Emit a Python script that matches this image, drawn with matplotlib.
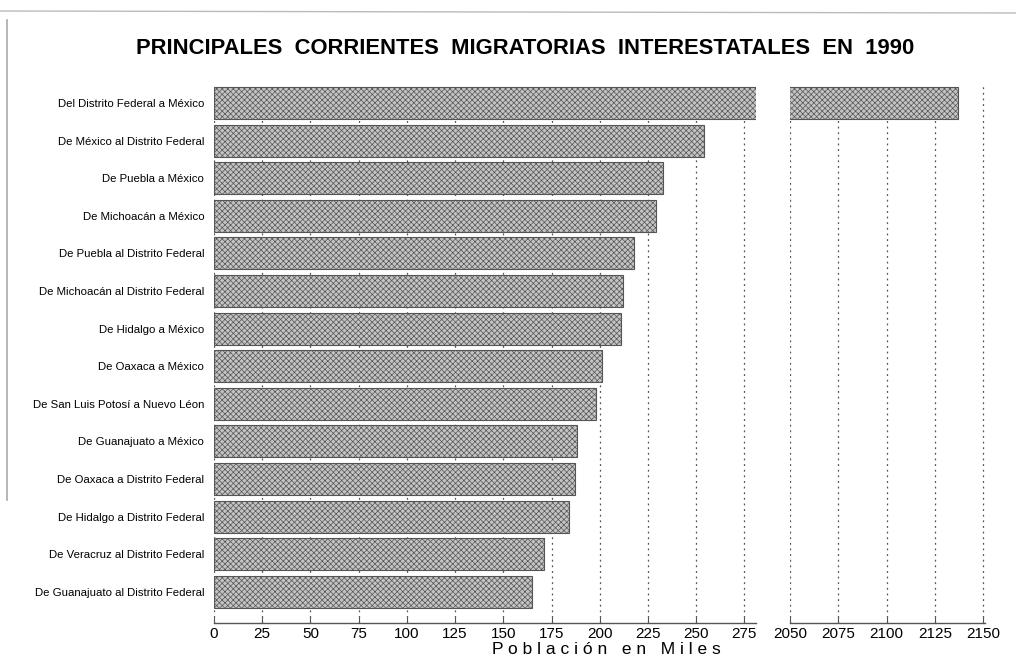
import matplotlib
matplotlib.use("Agg")
import matplotlib.pyplot as plt
from matplotlib.lines import Line2D

plt.rcParams['font.family'] = ['Liberation Sans', 'DejaVu Sans']
plt.rcParams['hatch.linewidth'] = 0.5

categories = [
    "Del Distrito Federal a México",
    "De México al Distrito Federal",
    "De Puebla a México",
    "De Michoacán a México",
    "De Puebla al Distrito Federal",
    "De Michoacán al Distrito Federal",
    "De Hidalgo a México",
    "De Oaxaca a México",
    "De San Luis Potosí a Nuevo Léon",
    "De Guanajuato a México",
    "De Oaxaca a Distrito Federal",
    "De Hidalgo a Distrito Federal",
    "De Veracruz al Distrito Federal",
    "De Guanajuato al Distrito Federal",
]
values = [2137, 254, 233, 229, 218, 212, 211, 201, 198, 188, 187, 184, 171, 165]
left_ticks = [0, 25, 50, 75, 100, 125, 150, 175, 200, 225, 250, 275]
right_ticks = [2050, 2075, 2100, 2125, 2150]

fig = plt.figure(figsize=(10.16, 6.57), dpi=100)
W, H = 1016, 657
bottom = 1 - 623 / H
top = 1 - 83 / H
axL = fig.add_axes([214 / W, bottom, (756 - 214) / W, top - bottom])
axR = fig.add_axes([790 / W, bottom, (985 - 790) / W, top - bottom])

pos = list(range(len(categories)))
for ax in (axL, axR):
    ax.barh(pos, values, height=0.85, color='#c4c4c4', edgecolor='#555555',
            hatch='xxxxxx', linewidth=0.8, zorder=2)
    ax.set_ylim(13.83, -0.53)
    for s in ('top', 'left', 'right'):
        ax.spines[s].set_visible(False)
    ax.spines['bottom'].set_color('#555555')
    ax.spines['bottom'].set_linewidth(1.0)
    ax.tick_params(axis='x', direction='in', length=4, color='#555555',
                   labelsize=11, pad=3)
    ax.tick_params(axis='y', length=0)
    ax.xaxis.grid(True, linestyle=(0, (1.5, 3)), color='#555555', linewidth=0.9, zorder=1)
    ax.set_axisbelow(True)

axL.set_xlim(0, 281)
axL.set_xticks(left_ticks)
axL.set_yticks(pos)
axL.set_yticklabels(categories, fontsize=8.2)
axL.tick_params(axis='y', pad=7)

axR.set_xlim(2050, 2151)
axR.set_xticks(right_ticks)
axR.set_yticks([])

fig.text(525 / W, 1 - 48 / H, "PRINCIPALES  CORRIENTES  MIGRATORIAS  INTERESTATALES  EN  1990",
         ha='center', va='center', fontsize=15.8, fontweight='bold')
fig.text(606 / W, 1 - 649 / H, "P o b l a c i ó n   e n   M i l e s",
         ha='center', va='center', fontsize=12.5)

# scanned page edges
fig.add_artist(Line2D([0, 1], [1 - 11 / H, 1 - 13 / H], color='#bbbbbb', linewidth=1))
fig.add_artist(Line2D([7 / W, 7 / W], [1 - 20 / H, 1 - 500 / H], color='#aaaaaa', linewidth=1.2))

fig.savefig("out.png", dpi=100)
